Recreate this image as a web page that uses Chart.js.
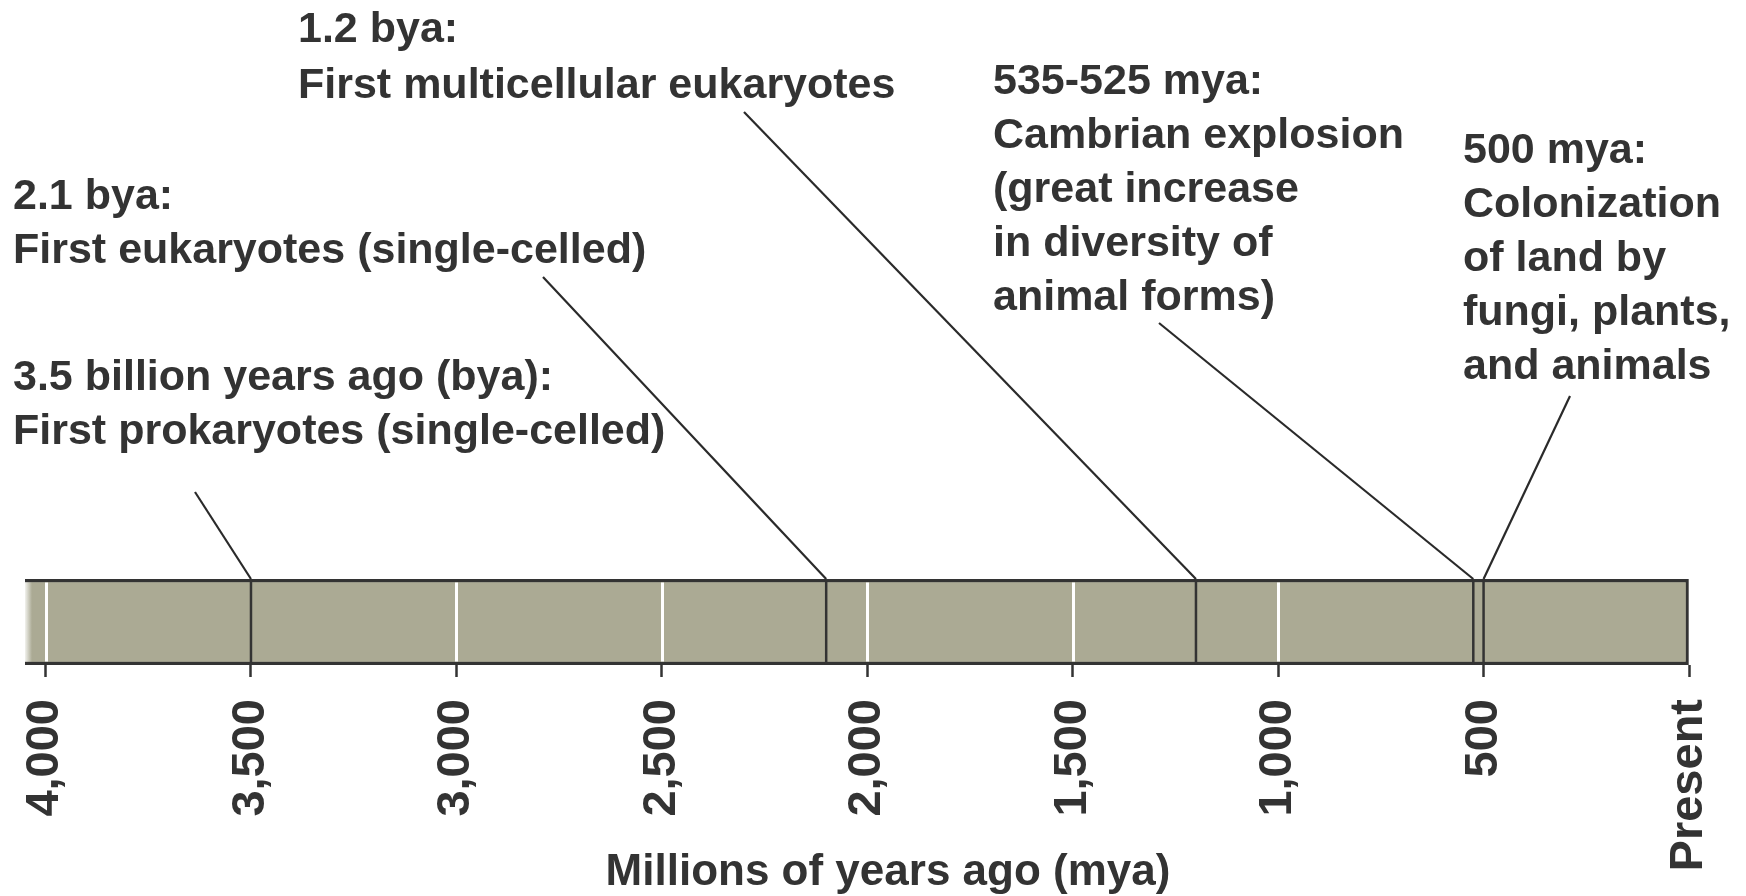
<!DOCTYPE html>
<html>
<head>
<meta charset="utf-8">
<script src="https://cdn.jsdelivr.net/npm/chart.js@4/dist/chart.umd.min.js"></script>
<style>
  html, body { margin: 0; padding: 0; background: #ffffff; }
  #wrap { width: 1746px; height: 896px; position: relative; }
</style>
</head>
<body>
<div id="wrap"><canvas id="c"></canvas></div>
<script>
// ---- data ----
const timelineRange = [4050, 0];               // millions of years ago (bar extent)
const tickValues = [4000, 3500, 3000, 2500, 2000, 1500, 1000, 500, 0];
const tickLabels = ['4,000', '3,500', '3,000', '2,500', '2,000', '1,500', '1,000', '500', 'Present'];
const eventMya = [3500, 2100, 1200, 525, 500];
const eventLabels = [
  ['3.5 billion years ago (bya):', 'First prokaryotes (single-celled)'],
  ['2.1 bya:', 'First eukaryotes (single-celled)'],
  ['1.2 bya:', 'First multicellular eukaryotes'],
  ['535-525 mya:', 'Cambrian explosion', '(great increase', 'in diversity of', 'animal forms)'],
  ['500 mya:', 'Colonization', 'of land by', 'fungi, plants,', 'and animals']
];
const axisTitle = 'Millions of years ago (mya)';

// ---- layout / style (pixels) ----
const labelLayout = [
  { x: 13,   y: 390, lh: 54, lx: 195,  ly: 492 },
  { x: 13,   y: 209, lh: 54, lx: 543,  ly: 277 },
  { x: 298,  y: 42,  lh: 56, lx: 744,  ly: 112 },
  { x: 993,  y: 94,  lh: 54, lx: 1159, ly: 323 },
  { x: 1463, y: 163, lh: 54, lx: 1570, ly: 396 }
];
const titlePos = { x: 888, y: 885 };
const axisBoxHeight = 206;
const ink = '#333333';
const barFill = '#abaa94';
const borderW = 3.5;
const labelFont = 'bold 43px "Liberation Sans", Arial, sans-serif';

Chart.defaults.font.family = '"Liberation Sans", Arial, sans-serif';

const timelinePlugin = {
  id: 'timeline',
  afterDatasetsDraw(chart) {
    const ctx = chart.ctx, xs = chart.scales.x, ca = chart.chartArea;
    ctx.save();
    // white guide lines inside the bar
    ctx.strokeStyle = '#ffffff';
    ctx.lineWidth = 3;
    tickValues.forEach(v => {
      if (v === 0 || eventMya.includes(v)) return;
      const px = Math.round(xs.getPixelForValue(v)) + 0.5;
      ctx.beginPath();
      ctx.moveTo(px, ca.top + borderW);
      ctx.lineTo(px, ca.bottom - borderW);
      ctx.stroke();
    });
    // event lines through the bar
    ctx.strokeStyle = ink;
    ctx.lineWidth = 2.5;
    eventMya.forEach(v => {
      const px = xs.getPixelForValue(v);
      ctx.beginPath();
      ctx.moveTo(px, ca.top);
      ctx.lineTo(px, ca.bottom);
      ctx.stroke();
    });
    ctx.restore();
  },
  afterDraw(chart) {
    const ctx = chart.ctx, xs = chart.scales.x, ca = chart.chartArea;
    ctx.save();
    // leader lines
    ctx.strokeStyle = '#2a2a2a';
    ctx.lineWidth = 2.2;
    eventMya.forEach((v, i) => {
      const L = labelLayout[i];
      ctx.beginPath();
      ctx.moveTo(L.lx, L.ly);
      ctx.lineTo(xs.getPixelForValue(v), ca.top);
      ctx.stroke();
    });
    // labels
    ctx.fillStyle = ink;
    ctx.font = labelFont;
    ctx.textAlign = 'left';
    ctx.textBaseline = 'alphabetic';
    eventLabels.forEach((lines, i) => {
      const L = labelLayout[i];
      lines.forEach((t, j) => ctx.fillText(t, L.x, L.y + j * L.lh));
    });
    // axis title
    ctx.textAlign = 'center';
    ctx.font = 'bold 44px "Liberation Sans", Arial, sans-serif';
    ctx.fillText(axisTitle, titlePos.x, titlePos.y);
    ctx.restore();
  }
};

new Chart(document.getElementById('c'), {
  type: 'bar',
  data: {
    labels: ['Timeline'],
    datasets: [{
      data: [timelineRange],
      barPercentage: 1,
      categoryPercentage: 1,
      borderColor: ink,
      borderWidth: { top: borderW, bottom: borderW, right: 3, left: 0 },
      borderSkipped: false,
      backgroundColor: (c) => {
        const ca = c.chart.chartArea;
        if (!ca) return barFill;
        const g = c.chart.ctx.createLinearGradient(ca.left, 0, ca.left + 7, 0);
        g.addColorStop(0, '#f2f2ee');
        g.addColorStop(1, barFill);
        return g;
      }
    }]
  },
  options: {
    indexAxis: 'y',
    responsive: true,
    maintainAspectRatio: false,
    animation: false,
    events: [],
    layout: { padding: { top: 579, left: 25, right: 57, bottom: 25 } },
    plugins: { legend: { display: false }, tooltip: { enabled: false } },
    scales: {
      y: { display: false },
      x: {
        type: 'linear',
        min: 0,
        max: timelineRange[0],
        reverse: true,
        afterBuildTicks: (scale) => {
          scale.ticks = tickValues.slice().sort((a, b) => a - b).map(v => ({ value: v }));
        },
        afterFit: (scale) => { scale.height = axisBoxHeight; },
        border: { display: false },
        grid: {
          drawOnChartArea: false,
          drawTicks: true,
          tickLength: 12,
          tickWidth: 2.5,
          tickColor: ink
        },
        ticks: {
          autoSkip: false,
          maxRotation: 90,
          minRotation: 90,
          padding: 22,
          color: ink,
          font: { size: 47, weight: 'bold' },
          callback: (value) => {
            const i = tickValues.indexOf(value);
            return i >= 0 ? tickLabels[i] : '';
          }
        }
      }
    }
  },
  plugins: [timelinePlugin]
});
</script>
</body>
</html>
